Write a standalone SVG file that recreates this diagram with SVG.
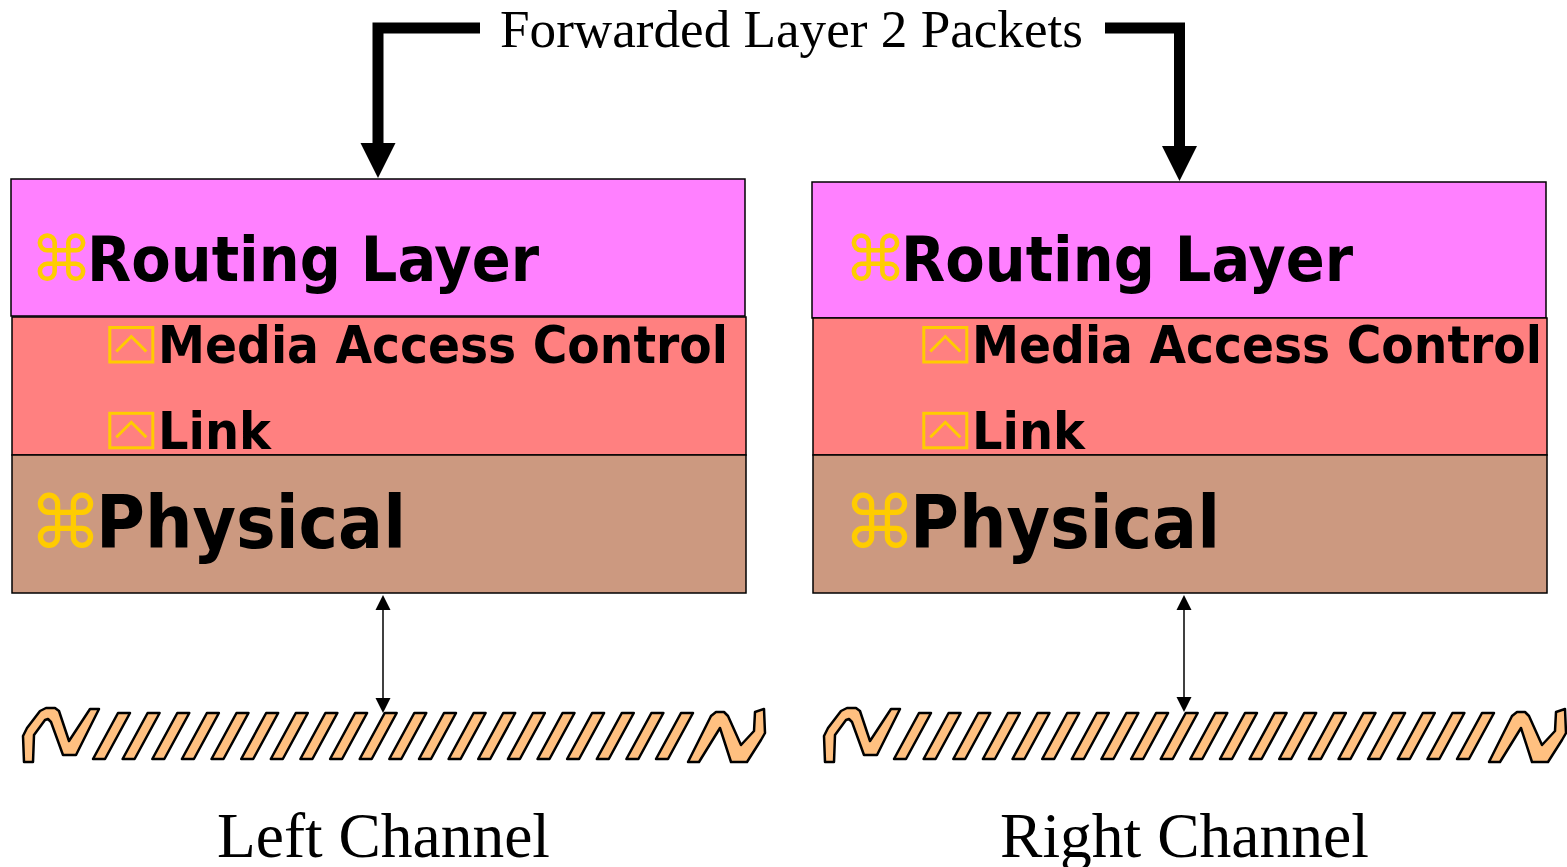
<svg xmlns="http://www.w3.org/2000/svg" width="1567" height="867" viewBox="0 0 1567 867">
  <style>
    .box { stroke: #000; stroke-width: 1.5; }
    .routing { fill: #FF80FF; }
    .mac { fill: #FF8080; }
    .phys { fill: #CC9980; }
    .lbl { font-family: "DejaVu Sans Condensed", "DejaVu Sans", sans-serif; font-stretch: condensed; font-weight: bold; fill: #000; }
    .cmd { font-family: "DejaVu Sans", sans-serif; fill: #FFCC00; }
    .sub { fill: none; stroke: #FFCC00; stroke-width: 3; }
    .serif { font-family: "Liberation Serif", "Times New Roman", serif; fill: #000; }
    .wire { fill: #FFC080; stroke: #000; stroke-width: 2.5; stroke-linejoin: round; }
    .thick { fill: none; stroke: #000; stroke-width: 11; stroke-linejoin: miter; }
    .thin { fill: none; stroke: #000; stroke-width: 1.5; }
  </style>
  <defs>
    <marker id="bigHead" markerUnits="userSpaceOnUse" markerWidth="36" markerHeight="36" viewBox="0 -18 36 36" refX="0" refY="0" orient="auto">
      <path d="M0,-17.5 L35,0 L0,17.5 Z" fill="#000"/>
    </marker>
    <marker id="smallHead" markerUnits="userSpaceOnUse" markerWidth="16" markerHeight="16" viewBox="0 -8 16 16" refX="0" refY="0" orient="auto-start-reverse">
      <path d="M0,-7.5 L15,0 L0,7.5 Z" fill="#000"/>
    </marker>
    <!-- sub-bullet: square with a caret -->
    <g id="subBullet">
      <rect class="sub" x="0" y="0" width="43" height="34.5"/>
      <polyline class="sub" points="6.5,24 21.5,9 36.5,24"/>
    </g>
    <!-- one cable: the two end squiggles -->
    <g id="cable">
      <path class="wire" d="M24,762 L23,736 L27,728 L40,711 L46,708 L55,708 L59,711 L69,741 L90,709 L99,709 L76,755 L63,755 L51,722 L48,719 L45,720 L34,735 L33,762 Z"/>
      <path class="wire" d="M688,762 L711,716 L716,712 L724,712 L728,716 L741,745 L754,731 L755,712 L764,709 L765,733 L761,740 L747,762 L731,762 L720,728 L699,762 Z"/>
    </g>
  </defs>

  <!-- left stack -->
  <g id="left-routing">
    <rect class="box routing" x="11" y="179" width="734" height="137"/>
    <text class="cmd" x="30" y="281" font-size="63">⌘</text>
    <text class="lbl" x="87" y="281" font-size="63" textLength="452" lengthAdjust="spacingAndGlyphs">Routing Layer</text>
  </g>
  <g id="left-mac-link">
    <rect class="box mac" x="12" y="317" width="734" height="138"/>
    <use href="#subBullet" x="109.8" y="327.5"/>
    <text class="lbl" x="158" y="363" font-size="51" textLength="570" lengthAdjust="spacingAndGlyphs">Media Access Control</text>
    <use href="#subBullet" x="109.8" y="413.3"/>
    <text class="lbl" x="158" y="449" font-size="51" textLength="113" lengthAdjust="spacingAndGlyphs">Link</text>
  </g>
  <g id="left-physical">
    <rect class="box phys" x="12" y="455" width="734" height="138"/>
    <text class="cmd" x="29" y="548" font-size="73">⌘</text>
    <text class="lbl" x="96" y="548" font-size="73" textLength="310" lengthAdjust="spacingAndGlyphs">Physical</text>
  </g>

  <!-- right stack -->
  <g id="right-routing">
    <rect class="box routing" x="812" y="182" width="734" height="136"/>
    <text class="cmd" x="844" y="281" font-size="63">⌘</text>
    <text class="lbl" x="901" y="281" font-size="63" textLength="452" lengthAdjust="spacingAndGlyphs">Routing Layer</text>
  </g>
  <g id="right-mac-link">
    <rect class="box mac" x="813" y="318" width="734" height="137"/>
    <use href="#subBullet" x="923.8" y="327.5"/>
    <text class="lbl" x="972" y="363" font-size="51" textLength="570" lengthAdjust="spacingAndGlyphs">Media Access Control</text>
    <use href="#subBullet" x="923.8" y="413.3"/>
    <text class="lbl" x="972" y="449" font-size="51" textLength="113" lengthAdjust="spacingAndGlyphs">Link</text>
  </g>
  <g id="right-physical">
    <rect class="box phys" x="813" y="455" width="734" height="138"/>
    <text class="cmd" x="843" y="548" font-size="73">⌘</text>
    <text class="lbl" x="910" y="548" font-size="73" textLength="310" lengthAdjust="spacingAndGlyphs">Physical</text>
  </g>

  <!-- channels -->
  <g id="left-channel">
    <use href="#cable"/>
    <g id="left-segments">
      <path class="wire" d="M118,713 h12 l-25,46 h-12 Z"/>
      <path class="wire" d="M147.6,713 h12 l-25,46 h-12 Z"/>
      <path class="wire" d="M177.3,713 h12 l-25,46 h-12 Z"/>
      <path class="wire" d="M206.9,713 h12 l-25,46 h-12 Z"/>
      <path class="wire" d="M236.5,713 h12 l-25,46 h-12 Z"/>
      <path class="wire" d="M266.2,713 h12 l-25,46 h-12 Z"/>
      <path class="wire" d="M295.8,713 h12 l-25,46 h-12 Z"/>
      <path class="wire" d="M325.4,713 h12 l-25,46 h-12 Z"/>
      <path class="wire" d="M355.1,713 h12 l-25,46 h-12 Z"/>
      <path class="wire" d="M384.7,713 h12 l-25,46 h-12 Z"/>
      <path class="wire" d="M414.3,713 h12 l-25,46 h-12 Z"/>
      <path class="wire" d="M444,713 h12 l-25,46 h-12 Z"/>
      <path class="wire" d="M473.6,713 h12 l-25,46 h-12 Z"/>
      <path class="wire" d="M503.2,713 h12 l-25,46 h-12 Z"/>
      <path class="wire" d="M532.9,713 h12 l-25,46 h-12 Z"/>
      <path class="wire" d="M562.5,713 h12 l-25,46 h-12 Z"/>
      <path class="wire" d="M592.1,713 h12 l-25,46 h-12 Z"/>
      <path class="wire" d="M621.8,713 h12 l-25,46 h-12 Z"/>
      <path class="wire" d="M651.4,713 h12 l-25,46 h-12 Z"/>
      <path class="wire" d="M681,713 h12 l-25,46 h-12 Z"/>
    </g>
    <text class="serif" x="217" y="857" font-size="63" textLength="333" lengthAdjust="spacingAndGlyphs">Left Channel</text>
  </g>
  <g id="right-channel">
    <use href="#cable" x="801"/>
    <use href="#left-segments" x="801"/>
    <text class="serif" x="1000" y="857" font-size="63" textLength="369" lengthAdjust="spacingAndGlyphs">Right Channel</text>
  </g>

  <!-- title -->
  <g id="title">
    <text class="serif" x="500" y="47" font-size="53" textLength="583" lengthAdjust="spacingAndGlyphs">Forwarded Layer 2 Packets</text>
  </g>

  <!-- connectors -->
  <g id="connectors">
    <path class="thick" d="M480,28 H378 V143" marker-end="url(#bigHead)"/>
    <path class="thick" d="M1105,28 H1179.5 V146" marker-end="url(#bigHead)"/>
    <path class="thin" d="M383,610 V698" marker-start="url(#smallHead)" marker-end="url(#smallHead)"/>
    <path class="thin" d="M1184,610 V697" marker-start="url(#smallHead)" marker-end="url(#smallHead)"/>
  </g>
</svg>
